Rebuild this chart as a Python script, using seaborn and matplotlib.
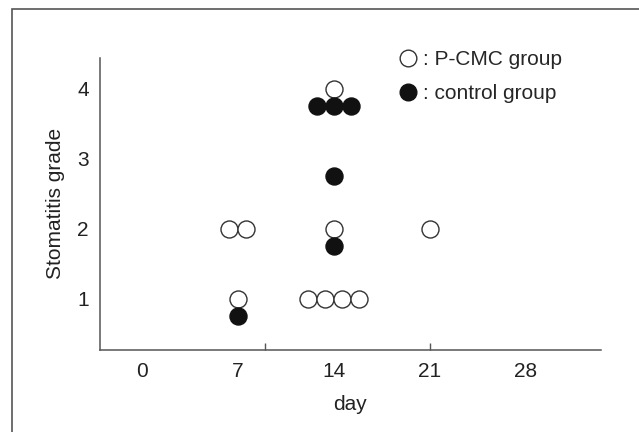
import numpy as np
import pandas as pd
import matplotlib
matplotlib.use("Agg")
import matplotlib.pyplot as plt
from matplotlib.lines import Line2D
from matplotlib.patches import Rectangle
import seaborn as sns

# data: one entry per patient
pcmc_day = [7, 7, 7, 14, 14, 14, 14, 14, 14, 21]
pcmc_grade = [1, 2, 2, 1, 1, 1, 1, 2, 4, 2]
control_day = [7, 14, 14, 14, 14, 14]
control_grade = [1, 2, 3, 4, 4, 4]

day_ticks = [0, 7, 14, 21, 28]
grade_ticks = [1, 2, 3, 4]

# display tweaks: control dots sit a bit below the grade, ties spread sideways
control_shift = -0.25
dodge_width = 1.24


def spread(days, grades, shift=0.0):
    df = pd.DataFrame({"day": days, "grade": grades})
    df["n"] = df.groupby(["day", "grade"])["day"].transform("size")
    df["i"] = df.groupby(["day", "grade"]).cumcount()
    df["x"] = df["day"] + (df["i"] - (df["n"] - 1) / 2) * dodge_width
    df["y"] = df["grade"] + shift
    return df


pcmc = spread(pcmc_day, pcmc_grade)
control = spread(control_day, control_grade, control_shift)

sns.set_style("white")
plt.rcParams["font.family"] = ["Liberation Sans", "DejaVu Sans"]

fig = plt.figure(figsize=(6.39, 4.32), dpi=100)
ax = fig.add_axes([0.1565, 0.19, 0.784, 0.676])

sns.scatterplot(data=pcmc, x="x", y="y", ax=ax, s=150, marker="o",
                facecolor="white", edgecolor="#333333", linewidth=1.0, zorder=3)
sns.scatterplot(data=control, x="x", y="y", ax=ax, s=150, marker="o",
                color="#111111", edgecolor="#111111", linewidth=1.0, zorder=3)

ax.set_xlim(-3.07, 33.5)
ax.set_ylim(0.27, 4.44)
ax.set_xticks(day_ticks)
ax.set_xticklabels([str(d) for d in day_ticks])
ax.xaxis.remove_overlapping_locs = False
ax.set_xticks([9, 21], minor=True)
ax.set_yticks(grade_ticks)
ax.set_yticklabels([str(g) for g in grade_ticks])
ax.tick_params(axis="both", which="major", length=0, labelsize=15,
               labelcolor="#222222")
ax.tick_params(axis="x", which="major", pad=9)
ax.tick_params(axis="y", which="major", pad=8)
ax.tick_params(axis="x", which="minor", direction="in", length=5,
               width=1, color="#555555", bottom=True)
ax.set_xlabel("day", fontsize=15, color="#222222", labelpad=10)
ax.set_ylabel("Stomatitis grade", fontsize=15, color="#222222", labelpad=9)

sns.despine(ax=ax)
for side in ["left", "bottom"]:
    ax.spines[side].set_color("#555555")
    ax.spines[side].set_linewidth(1.1)

handles = [
    Line2D([], [], marker="o", linestyle="none", markersize=12,
           markerfacecolor="white", markeredgecolor="#333333"),
    Line2D([], [], marker="o", linestyle="none", markersize=12,
           markerfacecolor="#111111", markeredgecolor="#111111"),
]
fig.legend(handles, [": P-CMC group", ": control group"], loc="upper left",
           bbox_to_anchor=(0.594, 0.928), frameon=False, fontsize=15,
           handlelength=0.9, handletextpad=0.3, labelspacing=0.72)

# outer frame of the scanned figure (only top and left edges visible)
fig.add_artist(Rectangle((12 / 639, -0.1), 1.2, 1 - 9 / 432 + 0.1,
                         transform=fig.transFigure, fill=False,
                         edgecolor="#555555", linewidth=1.2))

fig.savefig("out.png", dpi=100)
